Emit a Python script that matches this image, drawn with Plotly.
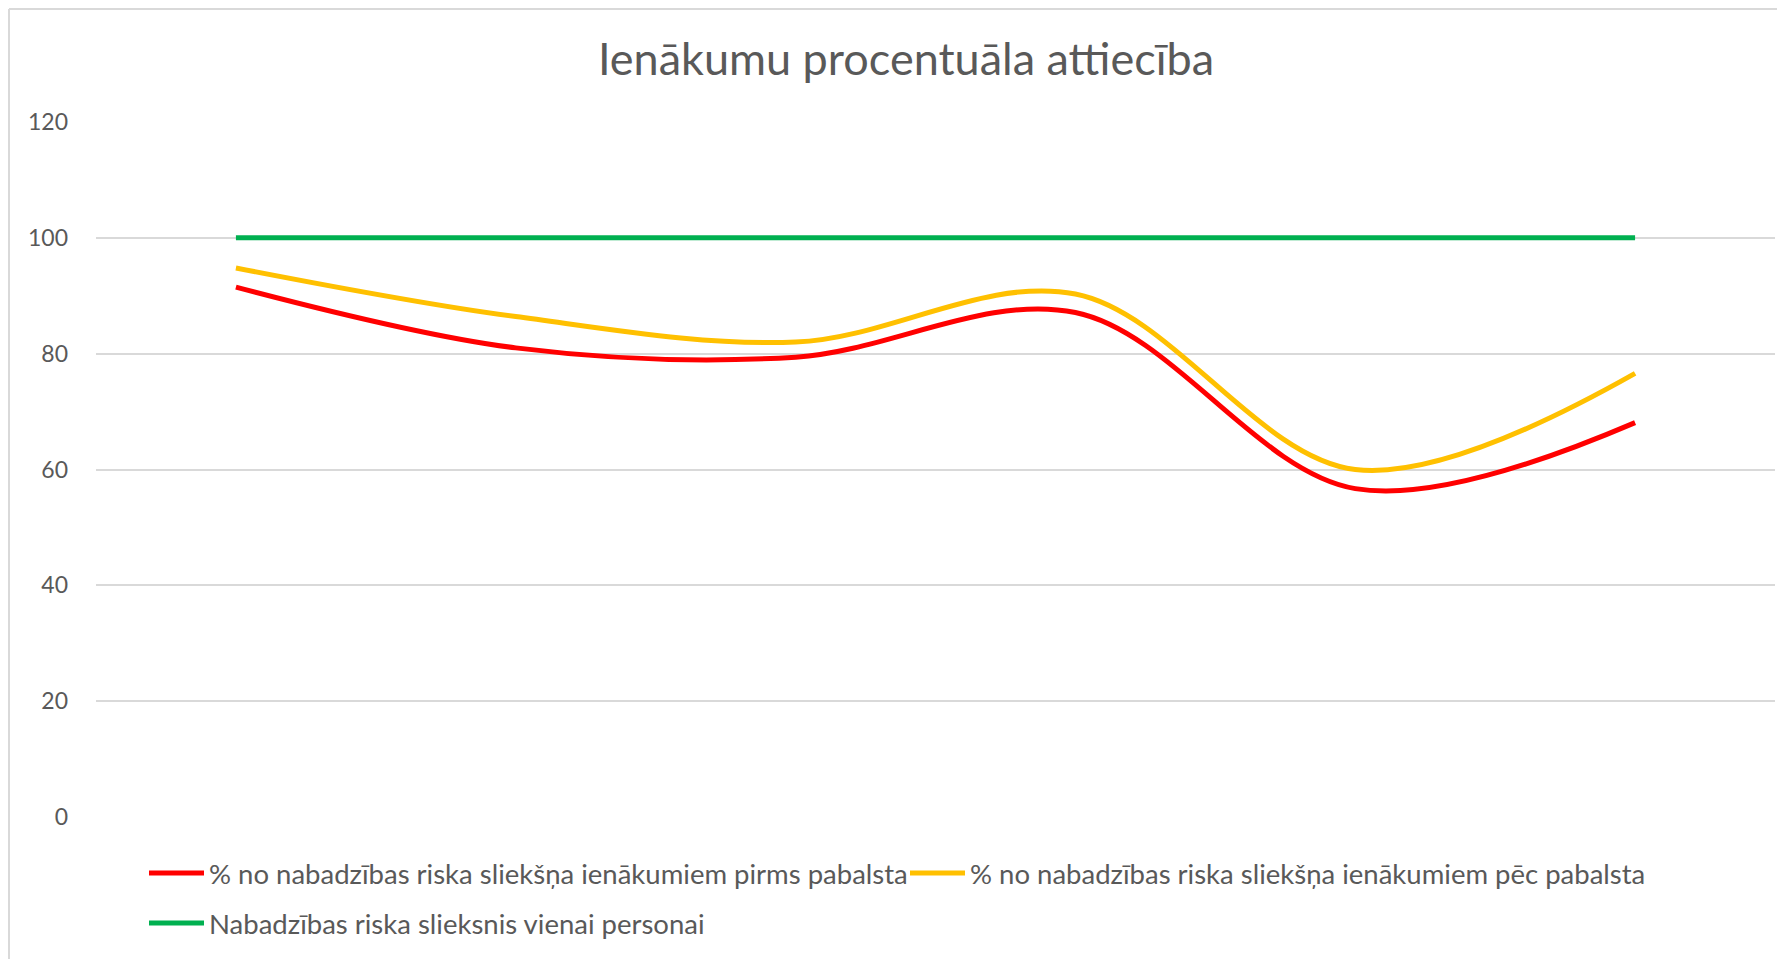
import plotly.graph_objects as go

categories = [1, 2, 3, 4, 5, 6]
pirms_pabalsta = [91.5, 81.0, 79.4, 87.1, 56.7, 68.1]
pec_pabalsta = [94.8, 86.4, 82.0, 90.3, 60.0, 76.6]
slieksnis = [100, 100, 100, 100, 100, 100]
y_ticks = [0, 20, 40, 60, 80, 100, 120]

names = [
    "% no nabadzības riska sliekšņa ienākumiem pirms pabalsta",
    "% no nabadzības riska sliekšņa ienākumiem pēc pabalsta",
    "Nabadzības riska slieksnis vienai personai",
]
colors = ["#FF0000", "#FFC000", "#00B050"]
series = [pirms_pabalsta, pec_pabalsta, slieksnis]
legend_ids = ["legend", "legend", "legend2"]

FONT = "Lato"
GRAY = "#595959"
W, H = 1777, 951
L, R, T, B = 88, 10, 114, 142
PW, PH = W - L - R, H - T - B

fig = go.Figure()
for name, vals, col, lg in zip(names, series, colors, legend_ids):
    fig.add_trace(go.Scatter(
        x=categories, y=vals, name=name, mode="lines", legend=lg,
        line=dict(color=col, width=5, shape="spline", smoothing=1.0),
    ))

ITEMW = 55
leg_common = dict(orientation="h", xanchor="left", yanchor="top",
                  font=dict(family=FONT, size=27.5, color=GRAY),
                  itemwidth=ITEMW,
                  entrywidth=716 - (ITEMW - 30), entrywidthmode="pixels",
                  bgcolor="rgba(0,0,0,0)")
leg_x = (161 - (ITEMW - 30) - L) / PW

fig.update_layout(
    width=W, height=H,
    margin=dict(l=L, r=R, t=T, b=B),
    paper_bgcolor="white", plot_bgcolor="white",
    font=dict(family=FONT, color=GRAY),
    title=dict(text="Ienākumu procentuāla attiecība", x=898 / W, xanchor="center",
               y=1 - 51 / H, yanchor="middle",
               font=dict(family=FONT, size=45, color=GRAY)),
    xaxis=dict(range=[0.5, 6.5], showticklabels=False, showgrid=False,
               zeroline=False, showline=False, ticks=""),
    yaxis=dict(range=[0, 120], tickvals=y_ticks, showgrid=True, gridcolor="#D9D9D9",
               gridwidth=2, zeroline=False, showline=False, ticks="",
               tickfont=dict(family=FONT, size=23, color=GRAY),
               ticklabelstandoff=27),
    legend=dict(x=leg_x, y=-(840.5 - (H - B)) / PH, **leg_common),
    legend2=dict(x=leg_x, y=-(890.5 - (H - B)) / PH, **leg_common),
    showlegend=True,
)

# chart frame (left and top edges visible)
fx = (1 - L) / PW
fy = 1 + (T - 1) / PH
fig.add_shape(type="line", xref="paper", yref="paper",
              x0=fx, x1=fx, y0=-B / PH - 0.05, y1=fy,
              line=dict(color="#D9D9D9", width=2))
fig.add_shape(type="line", xref="paper", yref="paper",
              x0=fx, x1=1 + R / PW + 0.02, y0=fy, y1=fy,
              line=dict(color="#D9D9D9", width=2))

fig.write_html("out.html")
